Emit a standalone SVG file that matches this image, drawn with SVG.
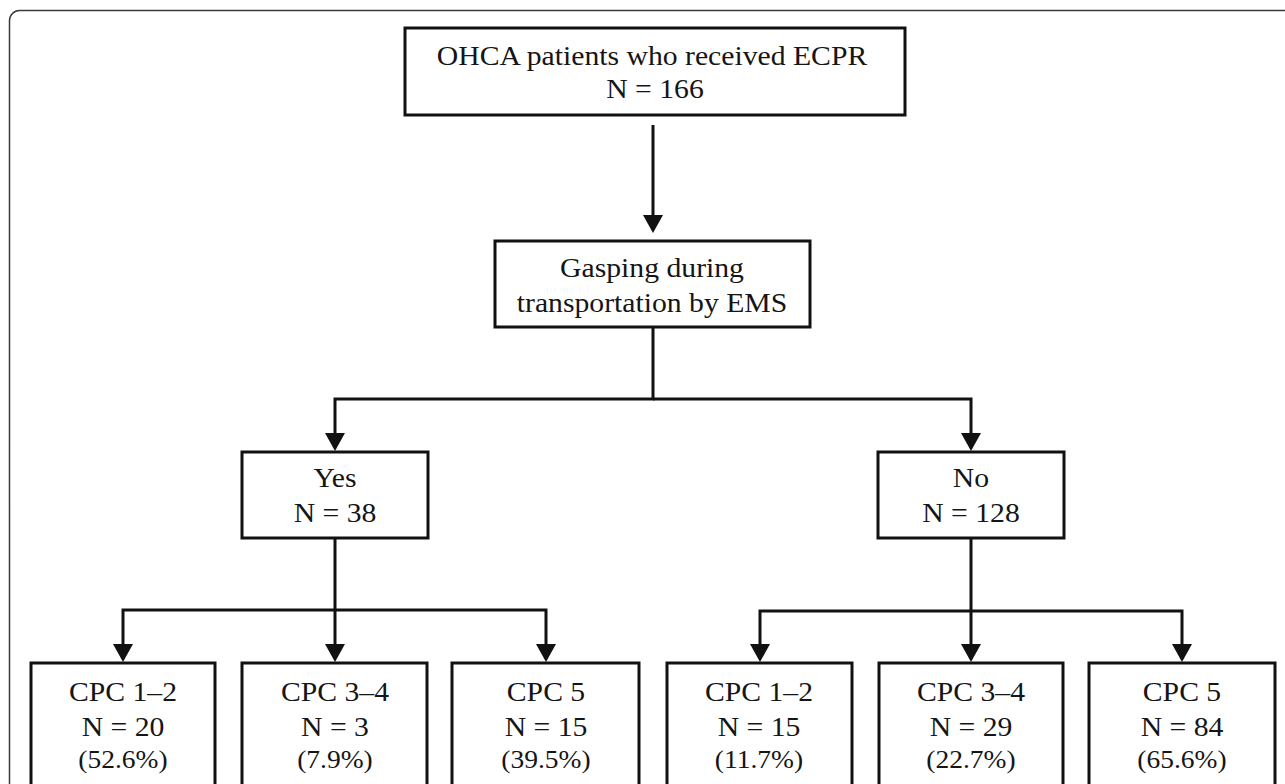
<svg xmlns="http://www.w3.org/2000/svg" width="1285" height="784" viewBox="0 0 1285 784">
<style>
.box{fill:#fff;stroke:#111;stroke-width:3}
.t{font-family:"Liberation Serif","Times New Roman",serif;font-size:27px;fill:#151515;text-anchor:middle}
.p{font-size:25px}
.c{fill:none;stroke:#111;stroke-width:3}
</style>
<defs>
<marker id="ah" viewBox="0 0 18 20" markerWidth="18" markerHeight="20" refX="8" refY="10" orient="auto" markerUnits="userSpaceOnUse">
<path d="M0,0 L18,10 L0,20 z" fill="#111"/>
</marker>
</defs>
<rect x="9.5" y="10.5" width="1320" height="820" rx="10" fill="#fff" stroke="#3a3a3a" stroke-width="1.5"/>
<g id="connectors">
<path class="c" d="M653,125 V223" marker-end="url(#ah)"/>
<path class="c" d="M653,327 V399 H335 V441" marker-end="url(#ah)"/>
<path class="c" d="M653,399 H971 V441" marker-end="url(#ah)"/>
<path class="c" d="M335,538 V652" marker-end="url(#ah)"/>
<path class="c" d="M335,610 H123 V652" marker-end="url(#ah)"/>
<path class="c" d="M335,610 H546 V652" marker-end="url(#ah)"/>
<path class="c" d="M971,538 V652" marker-end="url(#ah)"/>
<path class="c" d="M971,611 H760 V652" marker-end="url(#ah)"/>
<path class="c" d="M971,611 H1182 V652" marker-end="url(#ah)"/>
</g>
<g id="n-top">
<rect class="box" x="405" y="28" width="500" height="87"/>
<text class="t" transform="translate(652,65) scale(1.1,1)">OHCA patients who received ECPR</text>
<text class="t" transform="translate(655,98) scale(1.1,1)">N = 166</text>
</g>
<g id="n-gasp">
<rect class="box" x="495" y="241" width="315" height="86"/>
<text class="t" transform="translate(652,277) scale(1.1,1)">Gasping during</text>
<text class="t" transform="translate(652,312) scale(1.1,1)">transportation by EMS</text>
</g>
<g id="n-yes">
<rect class="box" x="242" y="452" width="186" height="86"/>
<text class="t" transform="translate(335,487) scale(1.1,1)">Yes</text>
<text class="t" transform="translate(335,522) scale(1.1,1)">N = 38</text>
</g>
<g id="n-no">
<rect class="box" x="878" y="452" width="186" height="86"/>
<text class="t" transform="translate(971,487) scale(1.1,1)">No</text>
<text class="t" transform="translate(971,522) scale(1.1,1)">N = 128</text>
</g>
<g id="n-y12">
<rect class="box" x="31" y="663" width="184" height="140"/>
<text class="t" transform="translate(123,701) scale(1.1,1)">CPC 1–2</text>
<text class="t" transform="translate(123,736) scale(1.1,1)">N = 20</text>
<text class="t p" transform="translate(123,768) scale(1.1,1)">(52.6%)</text>
</g>
<g id="n-y34">
<rect class="box" x="242" y="663" width="185" height="140"/>
<text class="t" transform="translate(335,701) scale(1.1,1)">CPC 3–4</text>
<text class="t" transform="translate(335,736) scale(1.1,1)">N = 3</text>
<text class="t p" transform="translate(335,768) scale(1.1,1)">(7.9%)</text>
</g>
<g id="n-y5">
<rect class="box" x="452" y="663" width="187" height="140"/>
<text class="t" transform="translate(546,701) scale(1.1,1)">CPC 5</text>
<text class="t" transform="translate(546,736) scale(1.1,1)">N = 15</text>
<text class="t p" transform="translate(546,768) scale(1.1,1)">(39.5%)</text>
</g>
<g id="n-n12">
<rect class="box" x="667" y="663" width="185" height="140"/>
<text class="t" transform="translate(759,701) scale(1.1,1)">CPC 1–2</text>
<text class="t" transform="translate(759,736) scale(1.1,1)">N = 15</text>
<text class="t p" transform="translate(759,768) scale(1.1,1)">(11.7%)</text>
</g>
<g id="n-n34">
<rect class="box" x="879" y="663" width="184" height="140"/>
<text class="t" transform="translate(971,701) scale(1.1,1)">CPC 3–4</text>
<text class="t" transform="translate(971,736) scale(1.1,1)">N = 29</text>
<text class="t p" transform="translate(971,768) scale(1.1,1)">(22.7%)</text>
</g>
<g id="n-n5">
<rect class="box" x="1089" y="663" width="186" height="140"/>
<text class="t" transform="translate(1182,701) scale(1.1,1)">CPC 5</text>
<text class="t" transform="translate(1182,736) scale(1.1,1)">N = 84</text>
<text class="t p" transform="translate(1182,768) scale(1.1,1)">(65.6%)</text>
</g>
</svg>
